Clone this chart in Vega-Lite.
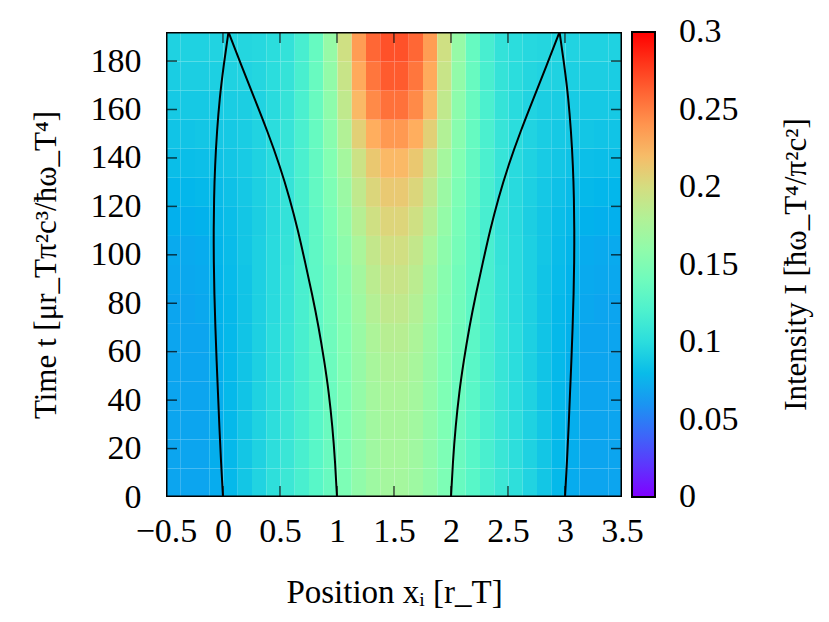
{
"$schema": "https://vega.github.io/schema/vega-lite/v6.json",
"width": 456, "height": 465,
"autosize": {"type": "none"},
"padding": {"left": 166, "top": 32, "right": 207, "bottom": 125},
"background": "white",
"title": {"text": "Intensity I [ħω_T⁴/π²c²]", "orient": "right", "angle": 270, "anchor": "middle", "frame": "group", "offset": 12, "font": "Liberation Serif", "fontSize": 31, "fontWeight": "normal", "color": "black"},
"config": {
  "font": "Liberation Serif",
  "view": {"stroke": null},
  "axis": {"labelFont": "Liberation Serif", "labelFontSize": 34, "labelColor": "black", "titleFont": "Liberation Serif", "titleFontSize": 33, "titleFontWeight": "normal", "titleColor": "black", "domain": false, "ticks": false, "grid": false, "labelOverlap": false, "labelFlush": false},
  "legend": {"gradientVerticalMaxLength": 600, "gradientVerticalMinLength": 100}
},
"layer": [
{
"data": {"values": [
{"x":-0.5,"t":0,"v":0.068},{"x":-0.375,"t":0,"v":0.068},{"x":-0.25,"t":0,"v":0.068},{"x":-0.125,"t":0,"v":0.071},{"x":0,"t":0,"v":0.078},{"x":0.125,"t":0,"v":0.086},{"x":0.25,"t":0,"v":0.094},{"x":0.375,"t":0,"v":0.102},{"x":0.5,"t":0,"v":0.110},{"x":0.625,"t":0,"v":0.118},{"x":0.75,"t":0,"v":0.127},{"x":0.875,"t":0,"v":0.136},{"x":1,"t":0,"v":0.148},{"x":1.125,"t":0,"v":0.160},{"x":1.25,"t":0,"v":0.168},{"x":1.375,"t":0,"v":0.172},
{"x":1.5,"t":0,"v":0.172},{"x":1.625,"t":0,"v":0.168},{"x":1.75,"t":0,"v":0.160},{"x":1.875,"t":0,"v":0.148},{"x":2,"t":0,"v":0.136},{"x":2.125,"t":0,"v":0.127},{"x":2.25,"t":0,"v":0.118},{"x":2.375,"t":0,"v":0.110},{"x":2.5,"t":0,"v":0.102},{"x":2.625,"t":0,"v":0.094},{"x":2.75,"t":0,"v":0.086},{"x":2.875,"t":0,"v":0.078},{"x":3,"t":0,"v":0.071},{"x":3.125,"t":0,"v":0.068},{"x":3.25,"t":0,"v":0.068},{"x":3.375,"t":0,"v":0.068},
{"x":-0.5,"t":12,"v":0.068},{"x":-0.375,"t":12,"v":0.068},{"x":-0.25,"t":12,"v":0.068},{"x":-0.125,"t":12,"v":0.072},{"x":0,"t":12,"v":0.078},{"x":0.125,"t":12,"v":0.086},{"x":0.25,"t":12,"v":0.093},{"x":0.375,"t":12,"v":0.101},{"x":0.5,"t":12,"v":0.109},{"x":0.625,"t":12,"v":0.118},{"x":0.75,"t":12,"v":0.127},{"x":0.875,"t":12,"v":0.137},{"x":1,"t":12,"v":0.148},{"x":1.125,"t":12,"v":0.160},{"x":1.25,"t":12,"v":0.169},{"x":1.375,"t":12,"v":0.173},
{"x":1.5,"t":12,"v":0.173},{"x":1.625,"t":12,"v":0.169},{"x":1.75,"t":12,"v":0.160},{"x":1.875,"t":12,"v":0.148},{"x":2,"t":12,"v":0.137},{"x":2.125,"t":12,"v":0.127},{"x":2.25,"t":12,"v":0.118},{"x":2.375,"t":12,"v":0.109},{"x":2.5,"t":12,"v":0.101},{"x":2.625,"t":12,"v":0.093},{"x":2.75,"t":12,"v":0.086},{"x":2.875,"t":12,"v":0.078},{"x":3,"t":12,"v":0.072},{"x":3.125,"t":12,"v":0.068},{"x":3.25,"t":12,"v":0.068},{"x":3.375,"t":12,"v":0.068},
{"x":-0.5,"t":24,"v":0.068},{"x":-0.375,"t":24,"v":0.068},{"x":-0.25,"t":24,"v":0.068},{"x":-0.125,"t":24,"v":0.072},{"x":0,"t":24,"v":0.078},{"x":0.125,"t":24,"v":0.086},{"x":0.25,"t":24,"v":0.093},{"x":0.375,"t":24,"v":0.101},{"x":0.5,"t":24,"v":0.109},{"x":0.625,"t":24,"v":0.118},{"x":0.75,"t":24,"v":0.127},{"x":0.875,"t":24,"v":0.137},{"x":1,"t":24,"v":0.149},{"x":1.125,"t":24,"v":0.161},{"x":1.25,"t":24,"v":0.170},{"x":1.375,"t":24,"v":0.174},
{"x":1.5,"t":24,"v":0.174},{"x":1.625,"t":24,"v":0.170},{"x":1.75,"t":24,"v":0.161},{"x":1.875,"t":24,"v":0.149},{"x":2,"t":24,"v":0.137},{"x":2.125,"t":24,"v":0.127},{"x":2.25,"t":24,"v":0.118},{"x":2.375,"t":24,"v":0.109},{"x":2.5,"t":24,"v":0.101},{"x":2.625,"t":24,"v":0.093},{"x":2.75,"t":24,"v":0.086},{"x":2.875,"t":24,"v":0.078},{"x":3,"t":24,"v":0.072},{"x":3.125,"t":24,"v":0.068},{"x":3.25,"t":24,"v":0.068},{"x":3.375,"t":24,"v":0.068},
{"x":-0.5,"t":36,"v":0.068},{"x":-0.375,"t":36,"v":0.068},{"x":-0.25,"t":36,"v":0.068},{"x":-0.125,"t":36,"v":0.072},{"x":0,"t":36,"v":0.078},{"x":0.125,"t":36,"v":0.085},{"x":0.25,"t":36,"v":0.093},{"x":0.375,"t":36,"v":0.100},{"x":0.5,"t":36,"v":0.109},{"x":0.625,"t":36,"v":0.118},{"x":0.75,"t":36,"v":0.128},{"x":0.875,"t":36,"v":0.138},{"x":1,"t":36,"v":0.149},{"x":1.125,"t":36,"v":0.162},{"x":1.25,"t":36,"v":0.172},{"x":1.375,"t":36,"v":0.176},
{"x":1.5,"t":36,"v":0.176},{"x":1.625,"t":36,"v":0.172},{"x":1.75,"t":36,"v":0.162},{"x":1.875,"t":36,"v":0.149},{"x":2,"t":36,"v":0.138},{"x":2.125,"t":36,"v":0.128},{"x":2.25,"t":36,"v":0.118},{"x":2.375,"t":36,"v":0.109},{"x":2.5,"t":36,"v":0.100},{"x":2.625,"t":36,"v":0.093},{"x":2.75,"t":36,"v":0.085},{"x":2.875,"t":36,"v":0.078},{"x":3,"t":36,"v":0.072},{"x":3.125,"t":36,"v":0.068},{"x":3.25,"t":36,"v":0.068},{"x":3.375,"t":36,"v":0.068},
{"x":-0.5,"t":48,"v":0.068},{"x":-0.375,"t":48,"v":0.068},{"x":-0.25,"t":48,"v":0.068},{"x":-0.125,"t":48,"v":0.073},{"x":0,"t":48,"v":0.078},{"x":0.125,"t":48,"v":0.085},{"x":0.25,"t":48,"v":0.092},{"x":0.375,"t":48,"v":0.100},{"x":0.5,"t":48,"v":0.108},{"x":0.625,"t":48,"v":0.118},{"x":0.75,"t":48,"v":0.128},{"x":0.875,"t":48,"v":0.139},{"x":1,"t":48,"v":0.150},{"x":1.125,"t":48,"v":0.163},{"x":1.25,"t":48,"v":0.174},{"x":1.375,"t":48,"v":0.179},
{"x":1.5,"t":48,"v":0.179},{"x":1.625,"t":48,"v":0.174},{"x":1.75,"t":48,"v":0.163},{"x":1.875,"t":48,"v":0.150},{"x":2,"t":48,"v":0.139},{"x":2.125,"t":48,"v":0.128},{"x":2.25,"t":48,"v":0.118},{"x":2.375,"t":48,"v":0.108},{"x":2.5,"t":48,"v":0.100},{"x":2.625,"t":48,"v":0.092},{"x":2.75,"t":48,"v":0.085},{"x":2.875,"t":48,"v":0.078},{"x":3,"t":48,"v":0.073},{"x":3.125,"t":48,"v":0.068},{"x":3.25,"t":48,"v":0.068},{"x":3.375,"t":48,"v":0.068},
{"x":-0.5,"t":60,"v":0.068},{"x":-0.375,"t":60,"v":0.068},{"x":-0.25,"t":60,"v":0.068},{"x":-0.125,"t":60,"v":0.074},{"x":0,"t":60,"v":0.078},{"x":0.125,"t":60,"v":0.085},{"x":0.25,"t":60,"v":0.092},{"x":0.375,"t":60,"v":0.100},{"x":0.5,"t":60,"v":0.108},{"x":0.625,"t":60,"v":0.118},{"x":0.75,"t":60,"v":0.129},{"x":0.875,"t":60,"v":0.140},{"x":1,"t":60,"v":0.151},{"x":1.125,"t":60,"v":0.165},{"x":1.25,"t":60,"v":0.177},{"x":1.375,"t":60,"v":0.183},
{"x":1.5,"t":60,"v":0.183},{"x":1.625,"t":60,"v":0.177},{"x":1.75,"t":60,"v":0.165},{"x":1.875,"t":60,"v":0.151},{"x":2,"t":60,"v":0.140},{"x":2.125,"t":60,"v":0.129},{"x":2.25,"t":60,"v":0.118},{"x":2.375,"t":60,"v":0.108},{"x":2.5,"t":60,"v":0.100},{"x":2.625,"t":60,"v":0.092},{"x":2.75,"t":60,"v":0.085},{"x":2.875,"t":60,"v":0.078},{"x":3,"t":60,"v":0.074},{"x":3.125,"t":60,"v":0.068},{"x":3.25,"t":60,"v":0.068},{"x":3.375,"t":60,"v":0.068},
{"x":-0.5,"t":72,"v":0.068},{"x":-0.375,"t":72,"v":0.068},{"x":-0.25,"t":72,"v":0.069},{"x":-0.125,"t":72,"v":0.075},{"x":0,"t":72,"v":0.078},{"x":0.125,"t":72,"v":0.085},{"x":0.25,"t":72,"v":0.092},{"x":0.375,"t":72,"v":0.099},{"x":0.5,"t":72,"v":0.107},{"x":0.625,"t":72,"v":0.118},{"x":0.75,"t":72,"v":0.130},{"x":0.875,"t":72,"v":0.141},{"x":1,"t":72,"v":0.153},{"x":1.125,"t":72,"v":0.168},{"x":1.25,"t":72,"v":0.181},{"x":1.375,"t":72,"v":0.188},
{"x":1.5,"t":72,"v":0.188},{"x":1.625,"t":72,"v":0.181},{"x":1.75,"t":72,"v":0.168},{"x":1.875,"t":72,"v":0.153},{"x":2,"t":72,"v":0.141},{"x":2.125,"t":72,"v":0.130},{"x":2.25,"t":72,"v":0.118},{"x":2.375,"t":72,"v":0.107},{"x":2.5,"t":72,"v":0.099},{"x":2.625,"t":72,"v":0.092},{"x":2.75,"t":72,"v":0.085},{"x":2.875,"t":72,"v":0.078},{"x":3,"t":72,"v":0.075},{"x":3.125,"t":72,"v":0.069},{"x":3.25,"t":72,"v":0.068},{"x":3.375,"t":72,"v":0.068},
{"x":-0.5,"t":84,"v":0.069},{"x":-0.375,"t":84,"v":0.069},{"x":-0.25,"t":84,"v":0.070},{"x":-0.125,"t":84,"v":0.075},{"x":0,"t":84,"v":0.079},{"x":0.125,"t":84,"v":0.085},{"x":0.25,"t":84,"v":0.092},{"x":0.375,"t":84,"v":0.099},{"x":0.5,"t":84,"v":0.107},{"x":0.625,"t":84,"v":0.118},{"x":0.75,"t":84,"v":0.130},{"x":0.875,"t":84,"v":0.142},{"x":1,"t":84,"v":0.155},{"x":1.125,"t":84,"v":0.171},{"x":1.25,"t":84,"v":0.185},{"x":1.375,"t":84,"v":0.193},
{"x":1.5,"t":84,"v":0.193},{"x":1.625,"t":84,"v":0.185},{"x":1.75,"t":84,"v":0.171},{"x":1.875,"t":84,"v":0.155},{"x":2,"t":84,"v":0.142},{"x":2.125,"t":84,"v":0.130},{"x":2.25,"t":84,"v":0.118},{"x":2.375,"t":84,"v":0.107},{"x":2.5,"t":84,"v":0.099},{"x":2.625,"t":84,"v":0.092},{"x":2.75,"t":84,"v":0.085},{"x":2.875,"t":84,"v":0.079},{"x":3,"t":84,"v":0.075},{"x":3.125,"t":84,"v":0.070},{"x":3.25,"t":84,"v":0.069},{"x":3.375,"t":84,"v":0.069},
{"x":-0.5,"t":96,"v":0.070},{"x":-0.375,"t":96,"v":0.070},{"x":-0.25,"t":96,"v":0.071},{"x":-0.125,"t":96,"v":0.076},{"x":0,"t":96,"v":0.080},{"x":0.125,"t":96,"v":0.086},{"x":0.25,"t":96,"v":0.092},{"x":0.375,"t":96,"v":0.099},{"x":0.5,"t":96,"v":0.106},{"x":0.625,"t":96,"v":0.118},{"x":0.75,"t":96,"v":0.131},{"x":0.875,"t":96,"v":0.144},{"x":1,"t":96,"v":0.158},{"x":1.125,"t":96,"v":0.175},{"x":1.25,"t":96,"v":0.190},{"x":1.375,"t":96,"v":0.198},
{"x":1.5,"t":96,"v":0.198},{"x":1.625,"t":96,"v":0.190},{"x":1.75,"t":96,"v":0.175},{"x":1.875,"t":96,"v":0.158},{"x":2,"t":96,"v":0.144},{"x":2.125,"t":96,"v":0.131},{"x":2.25,"t":96,"v":0.118},{"x":2.375,"t":96,"v":0.106},{"x":2.5,"t":96,"v":0.099},{"x":2.625,"t":96,"v":0.092},{"x":2.75,"t":96,"v":0.086},{"x":2.875,"t":96,"v":0.080},{"x":3,"t":96,"v":0.076},{"x":3.125,"t":96,"v":0.071},{"x":3.25,"t":96,"v":0.070},{"x":3.375,"t":96,"v":0.070},
{"x":-0.5,"t":108,"v":0.073},{"x":-0.375,"t":108,"v":0.073},{"x":-0.25,"t":108,"v":0.074},{"x":-0.125,"t":108,"v":0.078},{"x":0,"t":108,"v":0.081},{"x":0.125,"t":108,"v":0.086},{"x":0.25,"t":108,"v":0.091},{"x":0.375,"t":108,"v":0.098},{"x":0.5,"t":108,"v":0.105},{"x":0.625,"t":108,"v":0.117},{"x":0.75,"t":108,"v":0.131},{"x":0.875,"t":108,"v":0.146},{"x":1,"t":108,"v":0.162},{"x":1.125,"t":108,"v":0.182},{"x":1.25,"t":108,"v":0.197},{"x":1.375,"t":108,"v":0.205},
{"x":1.5,"t":108,"v":0.205},{"x":1.625,"t":108,"v":0.197},{"x":1.75,"t":108,"v":0.182},{"x":1.875,"t":108,"v":0.162},{"x":2,"t":108,"v":0.146},{"x":2.125,"t":108,"v":0.131},{"x":2.25,"t":108,"v":0.117},{"x":2.375,"t":108,"v":0.105},{"x":2.5,"t":108,"v":0.098},{"x":2.625,"t":108,"v":0.091},{"x":2.75,"t":108,"v":0.086},{"x":2.875,"t":108,"v":0.081},{"x":3,"t":108,"v":0.078},{"x":3.125,"t":108,"v":0.074},{"x":3.25,"t":108,"v":0.073},{"x":3.375,"t":108,"v":0.073},
{"x":-0.5,"t":120,"v":0.077},{"x":-0.375,"t":120,"v":0.077},{"x":-0.25,"t":120,"v":0.078},{"x":-0.125,"t":120,"v":0.080},{"x":0,"t":120,"v":0.083},{"x":0.125,"t":120,"v":0.087},{"x":0.25,"t":120,"v":0.092},{"x":0.375,"t":120,"v":0.098},{"x":0.5,"t":120,"v":0.106},{"x":0.625,"t":120,"v":0.118},{"x":0.75,"t":120,"v":0.133},{"x":0.875,"t":120,"v":0.148},{"x":1,"t":120,"v":0.166},{"x":1.125,"t":120,"v":0.188},{"x":1.25,"t":120,"v":0.204},{"x":1.375,"t":120,"v":0.212},
{"x":1.5,"t":120,"v":0.212},{"x":1.625,"t":120,"v":0.204},{"x":1.75,"t":120,"v":0.188},{"x":1.875,"t":120,"v":0.166},{"x":2,"t":120,"v":0.148},{"x":2.125,"t":120,"v":0.133},{"x":2.25,"t":120,"v":0.118},{"x":2.375,"t":120,"v":0.106},{"x":2.5,"t":120,"v":0.098},{"x":2.625,"t":120,"v":0.092},{"x":2.75,"t":120,"v":0.087},{"x":2.875,"t":120,"v":0.083},{"x":3,"t":120,"v":0.080},{"x":3.125,"t":120,"v":0.078},{"x":3.25,"t":120,"v":0.077},{"x":3.375,"t":120,"v":0.077},
{"x":-0.5,"t":132,"v":0.081},{"x":-0.375,"t":132,"v":0.081},{"x":-0.25,"t":132,"v":0.082},{"x":-0.125,"t":132,"v":0.084},{"x":0,"t":132,"v":0.086},{"x":0.125,"t":132,"v":0.089},{"x":0.25,"t":132,"v":0.093},{"x":0.375,"t":132,"v":0.099},{"x":0.5,"t":132,"v":0.107},{"x":0.625,"t":132,"v":0.119},{"x":0.75,"t":132,"v":0.134},{"x":0.875,"t":132,"v":0.151},{"x":1,"t":132,"v":0.172},{"x":1.125,"t":132,"v":0.195},{"x":1.25,"t":132,"v":0.213},{"x":1.375,"t":132,"v":0.222},
{"x":1.5,"t":132,"v":0.222},{"x":1.625,"t":132,"v":0.213},{"x":1.75,"t":132,"v":0.195},{"x":1.875,"t":132,"v":0.172},{"x":2,"t":132,"v":0.151},{"x":2.125,"t":132,"v":0.134},{"x":2.25,"t":132,"v":0.119},{"x":2.375,"t":132,"v":0.107},{"x":2.5,"t":132,"v":0.099},{"x":2.625,"t":132,"v":0.093},{"x":2.75,"t":132,"v":0.089},{"x":2.875,"t":132,"v":0.086},{"x":3,"t":132,"v":0.084},{"x":3.125,"t":132,"v":0.082},{"x":3.25,"t":132,"v":0.081},{"x":3.375,"t":132,"v":0.081},
{"x":-0.5,"t":144,"v":0.085},{"x":-0.375,"t":144,"v":0.085},{"x":-0.25,"t":144,"v":0.086},{"x":-0.125,"t":144,"v":0.087},{"x":0,"t":144,"v":0.088},{"x":0.125,"t":144,"v":0.090},{"x":0.25,"t":144,"v":0.094},{"x":0.375,"t":144,"v":0.100},{"x":0.5,"t":144,"v":0.107},{"x":0.625,"t":144,"v":0.119},{"x":0.75,"t":144,"v":0.135},{"x":0.875,"t":144,"v":0.155},{"x":1,"t":144,"v":0.180},{"x":1.125,"t":144,"v":0.208},{"x":1.25,"t":144,"v":0.228},{"x":1.375,"t":144,"v":0.238},
{"x":1.5,"t":144,"v":0.238},{"x":1.625,"t":144,"v":0.228},{"x":1.75,"t":144,"v":0.208},{"x":1.875,"t":144,"v":0.180},{"x":2,"t":144,"v":0.155},{"x":2.125,"t":144,"v":0.135},{"x":2.25,"t":144,"v":0.119},{"x":2.375,"t":144,"v":0.107},{"x":2.5,"t":144,"v":0.100},{"x":2.625,"t":144,"v":0.094},{"x":2.75,"t":144,"v":0.090},{"x":2.875,"t":144,"v":0.088},{"x":3,"t":144,"v":0.087},{"x":3.125,"t":144,"v":0.086},{"x":3.25,"t":144,"v":0.085},{"x":3.375,"t":144,"v":0.085},
{"x":-0.5,"t":156,"v":0.088},{"x":-0.375,"t":156,"v":0.088},{"x":-0.25,"t":156,"v":0.088},{"x":-0.125,"t":156,"v":0.089},{"x":0,"t":156,"v":0.090},{"x":0.125,"t":156,"v":0.091},{"x":0.25,"t":156,"v":0.094},{"x":0.375,"t":156,"v":0.099},{"x":0.5,"t":156,"v":0.106},{"x":0.625,"t":156,"v":0.119},{"x":0.75,"t":156,"v":0.136},{"x":0.875,"t":156,"v":0.158},{"x":1,"t":156,"v":0.188},{"x":1.125,"t":156,"v":0.222},{"x":1.25,"t":156,"v":0.245},{"x":1.375,"t":156,"v":0.256},
{"x":1.5,"t":156,"v":0.256},{"x":1.625,"t":156,"v":0.245},{"x":1.75,"t":156,"v":0.222},{"x":1.875,"t":156,"v":0.188},{"x":2,"t":156,"v":0.158},{"x":2.125,"t":156,"v":0.136},{"x":2.25,"t":156,"v":0.119},{"x":2.375,"t":156,"v":0.106},{"x":2.5,"t":156,"v":0.099},{"x":2.625,"t":156,"v":0.094},{"x":2.75,"t":156,"v":0.091},{"x":2.875,"t":156,"v":0.090},{"x":3,"t":156,"v":0.089},{"x":3.125,"t":156,"v":0.088},{"x":3.25,"t":156,"v":0.088},{"x":3.375,"t":156,"v":0.088},
{"x":-0.5,"t":168,"v":0.090},{"x":-0.375,"t":168,"v":0.091},{"x":-0.25,"t":168,"v":0.091},{"x":-0.125,"t":168,"v":0.092},{"x":0,"t":168,"v":0.093},{"x":0.125,"t":168,"v":0.094},{"x":0.25,"t":168,"v":0.096},{"x":0.375,"t":168,"v":0.100},{"x":0.5,"t":168,"v":0.106},{"x":0.625,"t":168,"v":0.118},{"x":0.75,"t":168,"v":0.136},{"x":0.875,"t":168,"v":0.161},{"x":1,"t":168,"v":0.193},{"x":1.125,"t":168,"v":0.230},{"x":1.25,"t":168,"v":0.254},{"x":1.375,"t":168,"v":0.265},
{"x":1.5,"t":168,"v":0.265},{"x":1.625,"t":168,"v":0.254},{"x":1.75,"t":168,"v":0.230},{"x":1.875,"t":168,"v":0.193},{"x":2,"t":168,"v":0.161},{"x":2.125,"t":168,"v":0.136},{"x":2.25,"t":168,"v":0.118},{"x":2.375,"t":168,"v":0.106},{"x":2.5,"t":168,"v":0.100},{"x":2.625,"t":168,"v":0.096},{"x":2.75,"t":168,"v":0.094},{"x":2.875,"t":168,"v":0.093},{"x":3,"t":168,"v":0.092},{"x":3.125,"t":168,"v":0.091},{"x":3.25,"t":168,"v":0.091},{"x":3.375,"t":168,"v":0.090},
{"x":-0.5,"t":180,"v":0.093},{"x":-0.375,"t":180,"v":0.093},{"x":-0.25,"t":180,"v":0.093},{"x":-0.125,"t":180,"v":0.094},{"x":0,"t":180,"v":0.095},{"x":0.125,"t":180,"v":0.096},{"x":0.25,"t":180,"v":0.097},{"x":0.375,"t":180,"v":0.100},{"x":0.5,"t":180,"v":0.105},{"x":0.625,"t":180,"v":0.117},{"x":0.75,"t":180,"v":0.135},{"x":0.875,"t":180,"v":0.163},{"x":1,"t":180,"v":0.197},{"x":1.125,"t":180,"v":0.236},{"x":1.25,"t":180,"v":0.260},{"x":1.375,"t":180,"v":0.269},
{"x":1.5,"t":180,"v":0.269},{"x":1.625,"t":180,"v":0.260},{"x":1.75,"t":180,"v":0.236},{"x":1.875,"t":180,"v":0.197},{"x":2,"t":180,"v":0.163},{"x":2.125,"t":180,"v":0.135},{"x":2.25,"t":180,"v":0.117},{"x":2.375,"t":180,"v":0.105},{"x":2.5,"t":180,"v":0.100},{"x":2.625,"t":180,"v":0.097},{"x":2.75,"t":180,"v":0.096},{"x":2.875,"t":180,"v":0.095},{"x":3,"t":180,"v":0.094},{"x":3.125,"t":180,"v":0.093},{"x":3.25,"t":180,"v":0.093},{"x":3.375,"t":180,"v":0.093}
]},
"mark": {"type": "rect", "clip": true, "binSpacing": 0},
"encoding": {
  "x": {"field": "x", "type": "quantitative", "bin": {"binned": true, "step": 0.125},
        "scale": {"domain": [-0.5, 3.5], "nice": false, "zero": false},
        "axis": {"orient": "bottom", "values": [-0.5, 0, 0.5, 1, 1.5, 2, 2.5, 3, 3.5], "format": "~r", "title": "Position xᵢ [r_T]", "labelPadding": 17, "titlePadding": 28}},
  "y": {"field": "t", "type": "quantitative", "bin": {"binned": true, "step": 12},
        "scale": {"domain": [0, 192], "nice": false, "zero": false},
        "axis": {"orient": "left", "values": [0, 20, 40, 60, 80, 100, 120, 140, 160, 180], "format": "~r", "title": "Time t [μr_Tπ²c³/ħω_T⁴]", "titleFontSize": 31, "labelPadding": 25, "titlePadding": 28}},
  "color": {"field": "v", "type": "quantitative",
        "scale": {"domain": [0, 0.025, 0.05, 0.075, 0.1, 0.125, 0.15, 0.175, 0.2, 0.225, 0.25, 0.275, 0.3],
                  "range": ["#8000ff", "#5542fd", "#2b80f6", "#00b4ec", "#2bdddd", "#55f6ca", "#80ffb4", "#aaf69b", "#d4dd80", "#ffb462", "#ff8042", "#ff4221", "#ff0000"],
                  "interpolate": "rgb"},
        "legend": {"orient": "right", "direction": "vertical", "offset": 10, "gradientLength": 465, "gradientThickness": 23,
                   "gradientStrokeColor": "#000000", "gradientStrokeWidth": 2,
                   "values": [0, 0.05, 0.1, 0.15, 0.2, 0.25, 0.3], "format": "~r",
                   "labelFont": "Liberation Serif", "labelFontSize": 34, "labelColor": "black", "labelOffset": 24, "labelOverlap": false,
                   "title": null,
                   "encode": {"labels": {"update": {"baseline": {"value": "middle"}}}}}}
}
},
{
"data": {"values": [
{"k":"A","t":0,"x":0},{"k":"A","t":15,"x":-0.018},{"k":"A","t":29,"x":-0.032},{"k":"A","t":43,"x":-0.044},{"k":"A","t":56,"x":-0.056},{"k":"A","t":70,"x":-0.067},{"k":"A","t":84,"x":-0.076},{"k":"A","t":97,"x":-0.081},{"k":"A","t":110,"x":-0.082},{"k":"A","t":123,"x":-0.079},{"k":"A","t":137,"x":-0.07},{"k":"A","t":151,"x":-0.053},{"k":"A","t":164.5,"x":-0.03},{"k":"A","t":178,"x":0.005},{"k":"A","t":192,"x":0.048},
{"k":"B","t":0,"x":1},{"k":"B","t":15,"x":0.983},{"k":"B","t":29,"x":0.96},{"k":"B","t":43,"x":0.929},{"k":"B","t":56,"x":0.889},{"k":"B","t":70,"x":0.84},{"k":"B","t":84,"x":0.781},{"k":"B","t":97,"x":0.72},{"k":"B","t":110,"x":0.658},{"k":"B","t":123,"x":0.587},{"k":"B","t":137,"x":0.497},{"k":"B","t":151,"x":0.39},{"k":"B","t":164.5,"x":0.277},{"k":"B","t":178,"x":0.162},{"k":"B","t":192,"x":0.048},
{"k":"C","t":0,"x":2},{"k":"C","t":15,"x":2.017},{"k":"C","t":29,"x":2.04},{"k":"C","t":43,"x":2.071},{"k":"C","t":56,"x":2.111},{"k":"C","t":70,"x":2.16},{"k":"C","t":84,"x":2.219},{"k":"C","t":97,"x":2.28},{"k":"C","t":110,"x":2.342},{"k":"C","t":123,"x":2.413},{"k":"C","t":137,"x":2.503},{"k":"C","t":151,"x":2.61},{"k":"C","t":164.5,"x":2.723},{"k":"C","t":178,"x":2.838},{"k":"C","t":192,"x":2.952},
{"k":"D","t":0,"x":3},{"k":"D","t":15,"x":3.018},{"k":"D","t":29,"x":3.032},{"k":"D","t":43,"x":3.044},{"k":"D","t":56,"x":3.056},{"k":"D","t":70,"x":3.067},{"k":"D","t":84,"x":3.076},{"k":"D","t":97,"x":3.081},{"k":"D","t":110,"x":3.082},{"k":"D","t":123,"x":3.079},{"k":"D","t":137,"x":3.07},{"k":"D","t":151,"x":3.053},{"k":"D","t":164.5,"x":3.03},{"k":"D","t":178,"x":2.995},{"k":"D","t":192,"x":2.952}
]},
"mark": {"type": "line", "color": "black", "strokeWidth": 2, "interpolate": "basis", "clip": true},
"encoding": {
  "x": {"field": "x", "type": "quantitative", "axis": null},
  "y": {"field": "t", "type": "quantitative", "axis": null},
  "detail": {"field": "k"},
  "order": {"field": "t"}
}
},
{
"data": {"values": [{"k":"frame","x":-0.5,"t":0,"o":0},{"k":"frame","x":3.5,"t":0,"o":1},{"k":"frame","x":3.5,"t":192,"o":2},{"k":"frame","x":-0.5,"t":192,"o":3},{"k":"frame","x":-0.5,"t":0,"o":4}]},
"mark": {"type": "line", "color": "black", "strokeWidth": 3, "interpolate": "linear", "clip": true},
"encoding": {
  "x": {"field": "x", "type": "quantitative", "axis": null},
  "y": {"field": "t", "type": "quantitative", "axis": null},
  "detail": {"field": "k"},
  "order": {"field": "o"}
}
},
{
"data": {"values": [{"v":0},{"v":0.5},{"v":1},{"v":1.5},{"v":2},{"v":2.5},{"v":3}]},
"mark": {"type": "tick", "orient": "vertical", "color": "black", "size": 11, "thickness": 1.5, "yOffset": -5.5, "clip": true},
"encoding": {"x": {"field": "v", "type": "quantitative", "axis": null}, "y": {"datum": 0, "type": "quantitative", "axis": null}}
},
{
"data": {"values": [{"v":0},{"v":0.5},{"v":1},{"v":1.5},{"v":2},{"v":2.5},{"v":3}]},
"mark": {"type": "tick", "orient": "vertical", "color": "black", "size": 11, "thickness": 1.5, "yOffset": 5.5, "clip": true},
"encoding": {"x": {"field": "v", "type": "quantitative", "axis": null}, "y": {"datum": 192, "type": "quantitative", "axis": null}}
},
{
"data": {"values": [{"v":20},{"v":40},{"v":60},{"v":80},{"v":100},{"v":120},{"v":140},{"v":160},{"v":180}]},
"mark": {"type": "tick", "orient": "horizontal", "color": "black", "size": 11, "thickness": 1.5, "xOffset": 5.5, "clip": true},
"encoding": {"y": {"field": "v", "type": "quantitative", "axis": null}, "x": {"datum": -0.5, "type": "quantitative", "axis": null}}
},
{
"data": {"values": [{"v":20},{"v":40},{"v":60},{"v":80},{"v":100},{"v":120},{"v":140},{"v":160},{"v":180}]},
"mark": {"type": "tick", "orient": "horizontal", "color": "black", "size": 11, "thickness": 1.5, "xOffset": -5.5, "clip": true},
"encoding": {"y": {"field": "v", "type": "quantitative", "axis": null}, "x": {"datum": 3.5, "type": "quantitative", "axis": null}}
}
],
"resolve": {"axis": {"x": "independent", "y": "independent"}}
}
